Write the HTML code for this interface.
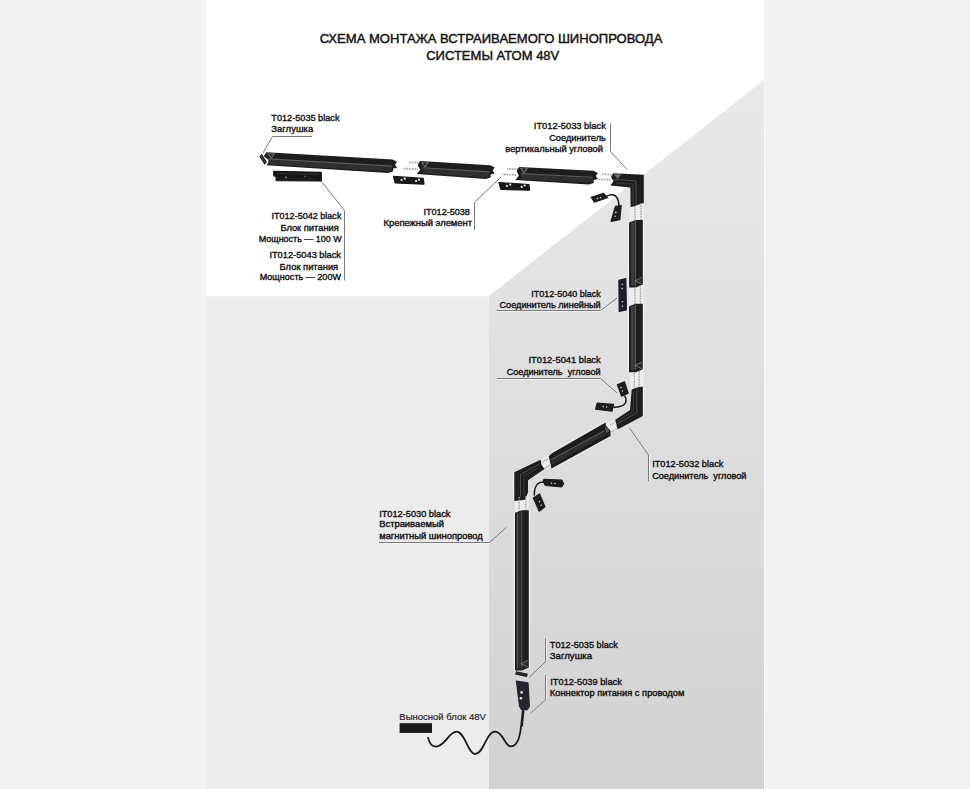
<!DOCTYPE html>
<html><head><meta charset="utf-8">
<style>
html,body{margin:0;padding:0;width:970px;height:789px;overflow:hidden;background:#f2f2f2;}
svg{position:absolute;left:0;top:0;}
text{font-family:"Liberation Sans",sans-serif;fill:#111;white-space:pre;}
.l{font-size:8.6px;font-weight:normal;stroke:#111;stroke-width:0.35px;}
.t{font-size:12px;fill:#111;stroke:#111;stroke-width:0.4px;}
.ld{stroke:#7a7a7a;stroke-width:1;fill:none;}
</style></head><body>
<svg width="970" height="789" viewBox="0 0 970 789">
<defs>
<linearGradient id="rw" gradientUnits="userSpaceOnUse" x1="0" y1="80" x2="0" y2="789">
<stop offset="0" stop-color="#e9e9e9"/>
<stop offset="1" stop-color="#d2d2d2"/>
</linearGradient>
</defs>
<rect x="206" y="0" width="558" height="789" fill="#ffffff"/>
<rect x="206" y="296" width="283" height="493" fill="#ececec"/>
<rect x="206" y="296" width="283" height="5" fill="#efefef"/>
<polygon points="489,296 764,80 764,789 489,789" fill="url(#rw)"/>
<rect x="764" y="80" width="1.2" height="709" fill="#fafafa"/>

<text class="t" x="319.7" y="42.8" textLength="342.7" lengthAdjust="spacingAndGlyphs">СХЕМА МОНТАЖА ВСТРАИВАЕМОГО ШИНОПРОВОДА</text>
<text class="t" x="426.2" y="59.8" textLength="133.1" lengthAdjust="spacingAndGlyphs">СИСТЕМЫ АТОМ 48V</text>

<text class="l" x="271.3" y="121.0" textLength="68.2" lengthAdjust="spacingAndGlyphs">T012-5035 black</text>
<text class="l" x="271.3" y="132.0" textLength="41.9" lengthAdjust="spacingAndGlyphs">Заглушка</text>
<text class="l" x="271.5" y="219.1" textLength="69.9" lengthAdjust="spacingAndGlyphs">IT012-5042 black</text>
<text class="l" x="280.4" y="230.6" textLength="58.4" lengthAdjust="spacingAndGlyphs">Блок питания</text>
<text class="l" x="258.8" y="241.7" textLength="82.8" lengthAdjust="spacingAndGlyphs">Мощность — 100 W</text>
<text class="l" x="269.4" y="257.6" textLength="71.6" lengthAdjust="spacingAndGlyphs">IT012-5043 black</text>
<text class="l" x="279.6" y="269.6" textLength="58.6" lengthAdjust="spacingAndGlyphs">Блок питания</text>
<text class="l" x="259.7" y="280.4" textLength="81.3" lengthAdjust="spacingAndGlyphs">Мощность — 200W</text>
<text class="l" x="423.5" y="215.0" textLength="46.4" lengthAdjust="spacingAndGlyphs">IT012-5038</text>
<text class="l" x="383.5" y="226.2" textLength="88.5" lengthAdjust="spacingAndGlyphs">Крепежный элемент</text>
<text class="l" x="533.8" y="129.0" textLength="72.1" lengthAdjust="spacingAndGlyphs">IT012-5033 black</text>
<text class="l" x="549.2" y="140.5" textLength="56.7" lengthAdjust="spacingAndGlyphs">Соединитель</text>
<text class="l" x="505.3" y="151.5" textLength="97.7" lengthAdjust="spacingAndGlyphs">вертикальный угловой</text>
<text class="l" x="531.3" y="297.0" textLength="69.4" lengthAdjust="spacingAndGlyphs">IT012-5040 black</text>
<text class="l" x="499.5" y="308.1" textLength="101.2" lengthAdjust="spacingAndGlyphs">Соединитель линейный</text>
<text class="l" x="528.4" y="363.4" textLength="72.3" lengthAdjust="spacingAndGlyphs">IT012-5041 black</text>
<text class="l" x="506.7" y="375.2" textLength="94.0" lengthAdjust="spacingAndGlyphs">Соединитель  угловой</text>
<text class="l" x="652.2" y="467.4" textLength="71.2" lengthAdjust="spacingAndGlyphs">IT012-5032 black</text>
<text class="l" x="652.2" y="478.7" textLength="94.3" lengthAdjust="spacingAndGlyphs">Соединитель  угловой</text>
<text class="l" x="379.2" y="517.3" textLength="71.2" lengthAdjust="spacingAndGlyphs">IT012-5030 black</text>
<text class="l" x="379.2" y="527.1" textLength="64.7" lengthAdjust="spacingAndGlyphs">Встраиваемый</text>
<text class="l" x="379.2" y="538.7" textLength="103.6" lengthAdjust="spacingAndGlyphs">магнитный шинопровод</text>
<text class="l" x="549.8" y="647.9" textLength="68.1" lengthAdjust="spacingAndGlyphs">T012-5035 black</text>
<text class="l" x="549.8" y="659.2" textLength="42.3" lengthAdjust="spacingAndGlyphs">Заглушка</text>
<text class="l" x="550.3" y="684.8" textLength="71.5" lengthAdjust="spacingAndGlyphs">IT012-5039 black</text>
<text class="l" x="549.8" y="696.1" textLength="134.6" lengthAdjust="spacingAndGlyphs">Коннектор питания с проводом</text>

<polyline class="ld" points="312,136.5 272.5,136.5 263,153"/>
<polyline class="ld" points="344.5,280.5 344.5,210.5 321.5,181.5"/>
<polyline class="ld" points="474.5,229.8 474.5,202.4 501,177"/>
<polyline class="ld" points="610.5,123.3 610.5,151.8 627,169.2"/>
<polyline class="ld" points="496.5,310.5 600.5,310.5 617,298"/>
<polyline class="ld" points="497,378.5 600.5,378.5 617,393"/>
<polyline class="ld" points="648.5,481.1 648.5,455 629.5,428"/>
<polyline class="ld" points="379,542.5 489.5,542.5 506.4,527.4"/>
<polyline class="ld" points="545.5,638.6 545.5,661.7 529,677.6"/>
<polyline class="ld" points="545.5,675 545.5,699.8 530.8,713"/>
<g opacity="0.6" stroke="#ffffff" stroke-width="1" fill="none">
<polyline points="496.5,311.5 601,311.5"/>
<polyline points="497,379.5 601,379.5"/>
<polyline points="379,543.5 490,543.5"/>
<polyline points="649.5,481 649.5,455.5"/>
<polyline points="546.5,639 546.5,661"/>
<polyline points="546.5,675.5 546.5,699"/>
</g>

<g id="comp">
<polygon points="629.5,206.0 643.5,201.0 643.5,221.0 629.5,223.0" fill="#eeeeee"/>
<polygon points="629.0,287.0 643.5,284.0 643.5,305.0 629.0,307.0" fill="#eeeeee"/>
<polygon points="629.5,371.0 643.5,368.0 643.5,388.0 631.0,391.0" fill="#eeeeee"/>
<polygon points="606.0,423.0 615.5,419.5 618.0,429.5 610.5,434.5" fill="#eeeeee"/>
<polygon points="540.5,460.0 549.0,455.0 551.5,467.0 544.5,469.5" fill="#eeeeee"/>
<polygon points="514.5,500.5 528.5,493.0 529.0,510.5 515.0,512.5" fill="#eeeeee"/>
<polygon points="259.4,156.4 261.6,153.8 267.0,162.0 264.6,164.8" fill="#1b1b1b" />
<polyline points="260.6,155.2 265.8,163.4" stroke="#555" stroke-width="0.7" fill="none" />
<polygon points="266.3,152.3 392.5,159.6 397.0,161.8 395.0,164.8 397.0,167.7 393.0,168.7 393.0,171.6 388.0,173.0 266.3,165.3 269.8,161.1 263.8,156.2" fill="#1d1d1d" />
<polygon points="268.3,159.6 392.0,166.7 392.0,170.5 268.3,163.3" fill="#2f2f2f"/>
<polyline points="268.3,158.9 392.0,166.1" stroke="#5c5c5c" stroke-width="1.1" fill="none" />
<polyline points="268.3,163.7 389.0,170.7" stroke="#3e3e3e" stroke-width="0.7" fill="none" />
<polygon points="266.8,153.1 275.3,153.6 271.1,159.1" fill="#6a6a6a" />
<polygon points="268.8,153.6 273.3,154.0 271.1,157.3" fill="#2a2a2a" />
<polygon points="273.8,171.3 321.2,172.4 321.4,181.0 276.2,180.6 276.0,176.2 273.8,176.0" fill="#151517" stroke="#151517" stroke-width="1.2" stroke-linejoin="round"/>
<polyline points="277.0,173.6 319.0,174.4" stroke="#3a3a3e" stroke-width="0.8" fill="none" />
<polyline points="277.0,178.2 319.0,179.0" stroke="#2a2a2e" stroke-width="0.8" fill="none" />
<circle cx="276.2" cy="177.5" r="0.6" fill="#a33"/>
<circle cx="286" cy="177.2" r="0.7" fill="#ddd"/>
<circle cx="305" cy="176.2" r="0.6" fill="#aaa"/>
<polygon points="393.5,176.4 423.2,178.4 424.0,184.2 395.2,183.0" fill="#18191d" stroke="#18191d" stroke-width="1.2" stroke-linejoin="round"/>
<circle cx="401.6" cy="180.0" r="1.1" fill="#f0f0f0"/>
<circle cx="404.8" cy="178.7" r="1.1" fill="#f0f0f0"/>
<circle cx="416.1" cy="181.0" r="1.1" fill="#f0f0f0"/>
<circle cx="419.0" cy="179.8" r="1.1" fill="#f0f0f0"/>
<line x1="409" y1="162.3" x2="419.5" y2="162.6" stroke="#999" stroke-width="1.8" stroke-dasharray="0.9 0.7"/>
<line x1="404" y1="168.6" x2="418" y2="169.2" stroke="#999" stroke-width="1.8" stroke-dasharray="0.9 0.7"/>
<polygon points="420.2,160.9 490.2,165.3 494.7,167.6 492.7,170.6 494.7,173.6 490.7,174.6 490.7,177.6 485.7,179.0 416.7,174.0 420.2,169.7 417.7,164.9" fill="#1d1d1d" />
<polygon points="422.2,168.3 489.7,172.6 489.7,176.5 422.2,172.2" fill="#2f2f2f"/>
<polyline points="422.2,167.7 489.7,171.9" stroke="#5c5c5c" stroke-width="1.1" fill="none" />
<polyline points="422.2,172.6 486.7,176.7" stroke="#3e3e3e" stroke-width="0.7" fill="none" />
<polygon points="420.7,161.7 429.2,162.3 425.0,167.9" fill="#6a6a6a" />
<polygon points="422.7,162.2 427.2,162.7 425.0,166.0" fill="#2a2a2a" />
<polygon points="499.0,182.6 529.0,184.6 529.5,190.2 500.8,189.3" fill="#18191d" stroke="#18191d" stroke-width="1.2" stroke-linejoin="round"/>
<circle cx="506.9" cy="186.0" r="1.1" fill="#f0f0f0"/>
<circle cx="510.3" cy="184.6" r="1.1" fill="#f0f0f0"/>
<circle cx="521.7" cy="186.9" r="1.1" fill="#f0f0f0"/>
<circle cx="524.6" cy="185.5" r="1.1" fill="#f0f0f0"/>
<line x1="507.3" y1="168.9" x2="518.5" y2="169.2" stroke="#999" stroke-width="1.8" stroke-dasharray="0.9 0.7"/>
<line x1="502.4" y1="174.4" x2="516" y2="174.8" stroke="#999" stroke-width="1.8" stroke-dasharray="0.9 0.7"/>
<polygon points="519.1,166.9 593.3,170.8 597.8,173.0 595.8,176.0 597.8,178.9 593.8,180.0 593.8,182.9 588.8,184.4 515.3,179.9 518.8,175.7 516.6,170.9" fill="#1d1d1d" />
<polygon points="521.1,174.3 592.8,178.0 592.8,181.8 521.1,178.1" fill="#2f2f2f"/>
<polyline points="521.1,173.6 592.8,177.3" stroke="#5c5c5c" stroke-width="1.1" fill="none" />
<polyline points="521.1,178.5 589.8,182.1" stroke="#3e3e3e" stroke-width="0.7" fill="none" />
<polygon points="519.6,167.7 528.1,168.2 523.9,173.7" fill="#6a6a6a" />
<polygon points="521.6,168.2 526.1,168.6 523.9,171.9" fill="#2a2a2a" />
<line x1="601.8" y1="174.2" x2="613" y2="174.6" stroke="#999" stroke-width="1.8" stroke-dasharray="0.9 0.7"/>
<line x1="597.6" y1="179.4" x2="611" y2="179.8" stroke="#999" stroke-width="1.8" stroke-dasharray="0.9 0.7"/>
<polygon points="613.3,173.2 643.8,174.8 643.8,202.9 630.6,207.2 630.4,187.6 610.4,185.6 613.5,181.0 611.0,177.0" fill="#1d1d1d" />
<polyline points="615.0,179.5 635.8,180.8 636.2,204.5" stroke="#4e4e4e" stroke-width="1.0" fill="none" />
<polyline points="616.0,183.0 633.0,184.0 633.2,205.5" stroke="#333" stroke-width="1.6" fill="none" />
<polygon points="613.8,174.0 621.5,174.4 617.5,179.0" fill="#6a6a6a" />
<polygon points="591.2,197.2 603.6,193.4 607.4,197.6 594.4,202.2" fill="#1c1d21" stroke="#1c1d21" stroke-width="1.2" stroke-linejoin="round"/>
<circle cx="597.5" cy="198.6" r="0.8" fill="#d8d8d8"/>
<circle cx="600.5" cy="197.6" r="0.8" fill="#d8d8d8"/>
<path d="M606.5,196.2 C611,194 618.5,192.5 619,206" stroke="#1a1a1a" stroke-width="1.5" fill="none"/>
<polygon points="615.4,206.4 621.2,205.5 619.8,219.6 611.0,221.4" fill="#1c1d21" stroke="#1c1d21" stroke-width="1.2" stroke-linejoin="round"/>
<circle cx="615.8" cy="212.4" r="0.8" fill="#d8d8d8"/>
<circle cx="615.2" cy="216.2" r="0.8" fill="#d8d8d8"/>
<line x1="635" y1="206" x2="635" y2="220" stroke="#999" stroke-width="1.4" stroke-dasharray="0.9 0.7"/>
<line x1="641" y1="203" x2="641" y2="220" stroke="#999" stroke-width="1.4" stroke-dasharray="0.9 0.7"/>
<rect x="627.8000000000001" y="221.9" width="1.1" height="65.70000000000002" fill="#f4f4f4" opacity="0.85"/>
<rect x="643.0" y="219.9" width="1.1" height="65.70000000000002" fill="#f4f4f4" opacity="0.85"/>
<polygon points="629.1,222.4 636.0,219.9 642.8,219.9 642.8,284.6 636.0,287.6 629.1,287.6" fill="#1d1d1d" />
<rect x="631.1" y="221.9" width="3.8909999999999707" height="63.70000000000002" fill="#3d3d3d"/>
<rect x="633.9" y="221.9" width="0.9" height="63.70000000000002" fill="#2e2e2e"/>
<rect x="634.991" y="220.9" width="1.1" height="64.70000000000002" fill="#565656"/>
<polygon points="642.0,277.1 634.9,280.6 642.0,284.4" fill="#2a2a2a" />
<polyline points="641.8,277.6 634.9,280.8 641.8,284.0" stroke="#858585" stroke-width="0.8" fill="none" />
<polygon points="618.9,280.4 625.8,278.6 626.4,309.8 619.2,311.4" fill="#1b1d28" stroke="#1b1d28" stroke-width="1.2" stroke-linejoin="round"/>
<circle cx="622.2" cy="284.2" r="0.8" fill="#d8d8d8"/>
<circle cx="622.2" cy="288.6" r="0.8" fill="#d8d8d8"/>
<circle cx="622.5" cy="301.8" r="0.8" fill="#d8d8d8"/>
<circle cx="622.5" cy="306.2" r="0.8" fill="#d8d8d8"/>
<line x1="635" y1="287" x2="635" y2="304.5" stroke="#999" stroke-width="1.4" stroke-dasharray="0.9 0.7"/>
<line x1="640.5" y1="285" x2="640.5" y2="304.5" stroke="#999" stroke-width="1.4" stroke-dasharray="0.9 0.7"/>
<rect x="627.7" y="305.8" width="1.1" height="66.39999999999998" fill="#f4f4f4" opacity="0.85"/>
<rect x="643.0" y="303.8" width="1.1" height="66.39999999999998" fill="#f4f4f4" opacity="0.85"/>
<polygon points="629.0,306.3 635.9,303.8 642.8,303.8 642.8,369.2 635.9,372.2 629.0,372.2" fill="#1d1d1d" />
<rect x="631.0" y="305.8" width="3.9339999999999806" height="64.39999999999998" fill="#3d3d3d"/>
<rect x="633.8" y="305.8" width="0.9" height="64.39999999999998" fill="#2e2e2e"/>
<rect x="634.934" y="304.8" width="1.1" height="65.39999999999998" fill="#565656"/>
<polygon points="642.0,361.7 634.8,365.2 642.0,369.0" fill="#2a2a2a" />
<polyline points="641.8,362.2 634.8,365.4 641.8,368.6" stroke="#858585" stroke-width="0.8" fill="none" />
<line x1="634.4" y1="373" x2="634.4" y2="390" stroke="#999" stroke-width="1.4" stroke-dasharray="0.9 0.7"/>
<line x1="639.2" y1="371" x2="639.2" y2="388" stroke="#999" stroke-width="1.4" stroke-dasharray="0.9 0.7"/>
<polygon points="631.7,389.5 637.0,387.4 642.8,386.4 642.8,416.0 617.5,429.4 615.3,419.7 630.0,410.0" fill="#1d1d1d" />
<polyline points="636.8,389.0 636.8,412.8 617.2,424.0" stroke="#4e4e4e" stroke-width="1.0" fill="none" />
<polyline points="633.5,391.0 633.5,411.0 617.0,421.5" stroke="#333" stroke-width="1.2" fill="none" />
<rect x="643.3" y="387" width="1.1" height="28" fill="#f4f4f4" opacity="0.8"/>
<polygon points="617.4,384.8 624.4,381.8 628.2,393.2 621.6,396.2" fill="#1c1d21" stroke="#1c1d21" stroke-width="1.2" stroke-linejoin="round"/>
<circle cx="621" cy="387.6" r="0.8" fill="#d8d8d8"/>
<circle cx="622.4" cy="391" r="0.8" fill="#d8d8d8"/>
<path d="M624.5,395.5 C627.5,401 627,407 613.5,407.2" stroke="#1a1a1a" stroke-width="1.5" fill="none"/>
<polygon points="597.2,403.2 613.6,404.4 612.0,411.2 595.6,409.2" fill="#1c1d21" stroke="#1c1d21" stroke-width="1.2" stroke-linejoin="round"/>
<circle cx="603.2" cy="406.6" r="0.8" fill="#d8d8d8"/>
<circle cx="606.6" cy="407" r="0.8" fill="#d8d8d8"/>
<line x1="610.5" y1="424.8" x2="616" y2="421.6" stroke="#999" stroke-width="1.4" stroke-dasharray="0.9 0.7"/>
<line x1="611.5" y1="431.8" x2="617.5" y2="428.4" stroke="#999" stroke-width="1.4" stroke-dasharray="0.9 0.7"/>
<polyline points="552.0,451.9 605.5,421.4" stroke="#f4f4f4" stroke-width="1.0" fill="none" opacity="0.75"/>
<polyline points="552.0,469.4 611.0,436.8" stroke="#f4f4f4" stroke-width="1.0" fill="none" opacity="0.75"/>
<polygon points="552.4,452.9 605.6,422.4 606.0,425.7 610.5,430.7 610.5,436.0 551.5,468.5 548.7,456.2" fill="#1d1d1d" />
<polygon points="551.0,460.5 604.5,431.2 606.5,434.5 551.5,465.0" fill="#2e2e2e" />
<polyline points="551.5,459.6 604.0,431.0" stroke="#5a5a5a" stroke-width="1.1" fill="none" />
<polygon points="605.0,426.0 609.5,430.8 606.0,433.5" fill="#5a5a5a" />
<line x1="541.5" y1="462.5" x2="548" y2="458.8" stroke="#999" stroke-width="1.4" stroke-dasharray="0.9 0.7"/>
<line x1="543.5" y1="469" x2="550" y2="465.2" stroke="#999" stroke-width="1.4" stroke-dasharray="0.9 0.7"/>
<polygon points="540.5,459.8 514.3,472.2 514.3,501.0 525.0,499.7 528.0,492.6 528.0,480.2 544.5,469.0 541.5,465.0" fill="#1d1d1d" />
<polyline points="538.8,464.5 520.5,474.5 520.5,497.0" stroke="#4e4e4e" stroke-width="1.0" fill="none" />
<polyline points="537.8,468.0 523.8,476.2 523.8,495.0" stroke="#333" stroke-width="1.4" fill="none" />
<rect x="512.8" y="473" width="1.1" height="28" fill="#f4f4f4" opacity="0.8"/>
<polygon points="544.0,479.3 561.8,480.2 563.6,483.7 561.8,486.8 545.4,485.5 543.2,481.0" fill="#1c1d21" stroke="#1c1d21" stroke-width="1.2" stroke-linejoin="round"/>
<circle cx="551.5" cy="483.2" r="0.8" fill="#d8d8d8"/>
<circle cx="555" cy="483.5" r="0.8" fill="#d8d8d8"/>
<path d="M544.5,482 C538,482 534.3,484.5 534.3,495.5" stroke="#1a1a1a" stroke-width="1.5" fill="none"/>
<polygon points="533.4,497.9 539.6,493.9 544.9,506.8 539.2,511.2" fill="#1c1d21" stroke="#1c1d21" stroke-width="1.2" stroke-linejoin="round"/>
<circle cx="539.4" cy="501.6" r="0.8" fill="#d8d8d8"/>
<circle cx="541.2" cy="505.2" r="0.8" fill="#d8d8d8"/>
<line x1="519.2" y1="497" x2="519.2" y2="511.5" stroke="#999" stroke-width="1.4" stroke-dasharray="0.9 0.7"/>
<line x1="525.8" y1="496" x2="525.8" y2="510.5" stroke="#999" stroke-width="1.4" stroke-dasharray="0.9 0.7"/>
<rect x="513.7" y="512.3" width="1.1" height="158.2" fill="#f4f4f4" opacity="0.85"/>
<rect x="529.0" y="510.3" width="1.1" height="158.2" fill="#f4f4f4" opacity="0.85"/>
<polygon points="515.0,512.8 521.9,510.3 528.8,510.3 528.8,667.5 521.9,670.5 515.0,670.5" fill="#1d1d1d" />
<rect x="516.8" y="512.3" width="1.2" height="156.2" fill="#555"/>
<rect x="518.0" y="512.3" width="3" height="156.2" fill="#2c2c2c"/>
<rect x="521.3" y="511.3" width="1" height="157.2" fill="#626262"/>
<rect x="522.3" y="511.3" width="2.4" height="157.2" fill="#262626"/>
<polygon points="528.0,660.0 520.8,663.5 528.0,667.3" fill="#2a2a2a" />
<polyline points="527.8,660.5 520.8,663.7 527.8,666.9" stroke="#858585" stroke-width="0.8" fill="none" />
<polygon points="516.2,671.2 527.9,673.7 526.8,677.0 515.0,674.5" fill="#1b1b1b" />
<polyline points="516.5,672.8 527.0,675.0" stroke="#444" stroke-width="0.6" fill="none" />
<polygon points="516.4,681.2 528.0,682.8 529.4,706.5 527.2,709.6 521.5,709.4 519.6,706.2" fill="#23262f" stroke="#23262f" stroke-width="1.2" stroke-linejoin="round"/>
<circle cx="521.6" cy="692.4" r="1.3" fill="#e4e6d0"/>
<circle cx="521.0" cy="698.2" r="1.3" fill="#e4e6d0"/>
<path d="M523.2,710 L521.6,726.5" stroke="#1a1a1a" stroke-width="2.6" fill="none"/>
</g>


<text x="399.3" y="720.1" style="font-size:9.5px;fill:#262626;stroke:#262626;stroke-width:0.2px" textLength="86.6" lengthAdjust="spacingAndGlyphs">Выносной блок 48V</text>
<rect x="399.6" y="723.2" width="32.4" height="9.7" fill="#1a1a1a"/>
<path d="M427.9,737.1 C430,746 434,747 437,746.4 C446,745 449,731.7 456.5,731.7 C465,731.7 468,754 475,754 C484,754 486,731.7 495.1,731.7 C503,731.7 505,746.4 510.6,746.4 C517,746.4 520,738 521,726" stroke="#1a1a1a" stroke-width="1.8" fill="none"/>
</svg>
</body></html>
